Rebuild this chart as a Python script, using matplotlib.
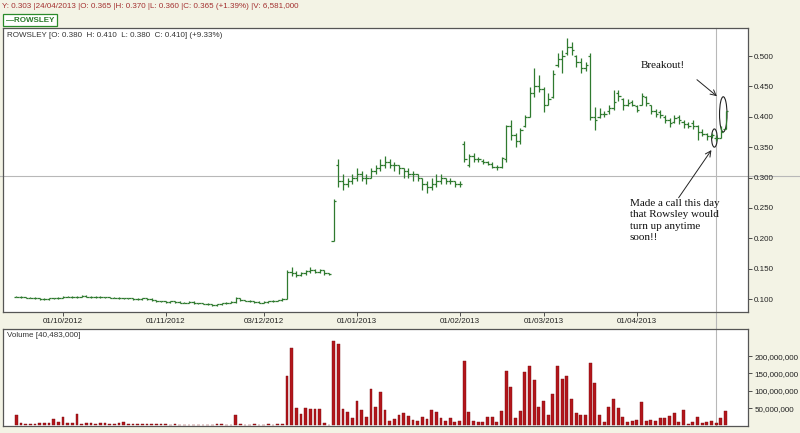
import numpy as np
import matplotlib
matplotlib.use("Agg")
import matplotlib.pyplot as plt
from matplotlib.patches import Ellipse

# ---------------- data (trading-day index 0..152, 17/09/2012 .. 26/04/2013) -------------
opens = [
    .104, .104, .103, .102, .102, .101, .100, .100, .101, .101,
    .102, .104, .104, .103, .104, .105, .104, .103, .104, .103,
    .103, .102, .102, .101, .101, .101, .100, .100, .101, .100,
    .098, .096, .096, .095, .096, .095, .094, .094, .095, .093,
    .093, .092, .091, .090, .091, .093, .094, .095, .101, .098,
    .097, .096, .095, .094, .095, .096, .097, .098,
    .100, .145, .142, .140, .143, .146, .148, .145, .147, .142, .196,
    .320, .295, .290, .295, .300, .305, .300, .300, .310, .315,
    .320, .325, .320, .320, .315, .310, .305, .305, .300, .290,
    .285, .290, .295, .300, .295, .295, .290,
    .355, .320, .335, .330, .328, .326, .322, .318, .318, .330,
    .385, .370, .360, .385, .400, .440, .450, .445, .420, .432,
    .485, .495, .505, .515, .500, .490, .480, .500, .400, .400,
    .405, .410, .415, .440, .430, .420, .425, .418, .420, .432,
    .420, .410, .408, .400, .395, .392, .400, .392, .388, .390,
    .385, .375, .372, .368, .365, .365, .380,
]
highs = [
    .105, .105, .104, .103, .103, .102, .101, .102, .102, .103,
    .105, .105, .105, .105, .106, .106, .105, .105, .105, .104,
    .104, .103, .103, .102, .102, .102, .101, .102, .102, .101,
    .099, .097, .097, .097, .097, .096, .095, .096, .096, .094,
    .094, .093, .092, .092, .094, .095, .096, .103, .102, .099,
    .098, .097, .096, .096, .097, .098, .099, .101,
    .148, .152, .146, .144, .148, .153, .150, .150, .148, .143, .265,
    .330, .305, .300, .305, .315, .310, .305, .315, .320, .330,
    .335, .330, .325, .320, .315, .315, .310, .305, .300, .295,
    .300, .305, .305, .300, .300, .295, .295,
    .360, .338, .341, .333, .330, .328, .325, .321, .334, .387,
    .395, .374, .382, .403, .449, .480, .469, .449, .439, .477,
    .505, .510, .530, .523, .502, .497, .490, .505, .416, .415,
    .410, .420, .444, .444, .431, .430, .428, .420, .440, .435,
    .420, .413, .411, .403, .398, .403, .403, .395, .392, .395,
    .387, .380, .374, .374, .370, .385, .410,
]
lows = [
    .103, .102, .101, .101, .100, .099, .099, .099, .100, .100,
    .101, .103, .102, .102, .103, .103, .102, .102, .102, .102,
    .101, .101, .100, .100, .100, .099, .099, .099, .099, .097,
    .095, .095, .094, .094, .094, .093, .093, .093, .092, .092,
    .091, .090, .089, .089, .090, .092, .093, .094, .097, .096,
    .095, .094, .093, .093, .094, .095, .096, .097,
    .100, .138, .137, .138, .140, .143, .142, .143, .140, .140, .195,
    .285, .280, .285, .290, .295, .295, .290, .300, .305, .310,
    .315, .315, .310, .305, .300, .300, .295, .295, .280, .275,
    .280, .285, .290, .290, .290, .285, .285,
    .325, .318, .326, .325, .322, .320, .315, .312, .316, .325,
    .362, .351, .355, .384, .400, .433, .441, .408, .420, .431,
    .482, .472, .502, .502, .482, .472, .475, .395, .379, .398,
    .400, .405, .411, .426, .411, .418, .418, .408, .420, .418,
    .405, .400, .398, .390, .384, .390, .388, .382, .382, .380,
    .362, .368, .362, .365, .360, .365, .380,
]
closes = [
    .104, .103, .102, .102, .101, .100, .100, .101, .101, .102,
    .104, .104, .103, .104, .105, .104, .103, .104, .103, .103,
    .102, .102, .101, .101, .101, .100, .100, .101, .100, .098,
    .096, .096, .095, .096, .095, .094, .094, .095, .093, .093,
    .092, .091, .090, .091, .093, .094, .095, .101, .098, .097,
    .096, .095, .094, .095, .096, .097, .098, .100,
    .145, .142, .140, .143, .146, .148, .145, .147, .142, .141, .262,
    .295, .290, .295, .300, .305, .300, .300, .310, .315, .320,
    .325, .320, .320, .315, .310, .305, .305, .300, .290, .285,
    .290, .295, .300, .295, .295, .290, .290,
    .330, .335, .330, .330, .326, .322, .318, .318, .332, .385,
    .370, .360, .378, .400, .440, .450, .445, .420, .430, .470,
    .495, .500, .515, .510, .490, .480, .485, .400, .395, .405,
    .405, .415, .425, .435, .420, .422, .420, .412, .435, .422,
    .410, .405, .403, .395, .390, .398, .395, .388, .385, .385,
    .375, .372, .368, .370, .365, .375, .410,
]
volume_m = [  # millions of shares
    30, 6.6, 4, 4, 5, 8, 7, 6, 20, 10,
    23, 6, 6, 32, 5, 7, 7, 4, 6, 6,
    5, 5, 6, 9, 3, 3, 4, 3, 4, 3,
    3, 4, 3, 2, 3, 2, 2, 2, 2, 0,
    2, 2, 0, 3, 5, 0, 2, 31, 3, 2,
    2, 3, 2, 2, 3, 2, 3, 5,
    143, 223, 49, 34, 49, 47, 47, 47, 8, 0, 243,
    235, 47, 38, 21, 71, 44, 24, 105, 54, 97,
    44, 13, 20, 29, 37, 26, 17, 14, 23, 20,
    44, 40, 22, 12, 22, 9, 12,
    186, 38, 12, 9, 9, 23, 23, 10, 43, 157,
    111, 22, 43, 154, 171, 131, 54, 71, 29, 91,
    171, 134, 143, 77, 35, 29, 29, 180, 123, 29,
    9, 54, 76, 49, 23, 9, 14, 17, 69, 14,
    17, 14, 22, 21, 26, 35, 9, 44, 5, 10,
    23, 8, 9, 14, 6.581, 22, 40.483,
]
tick_idx = [10, 32, 53, 73, 95, 113, 133]
tick_labels = ['01/10/2012', '01/11/2012', '03/12/2012', '01/01/2013',
               '01/02/2013', '01/03/2013', '01/04/2013']
price_ticks = [0.100, 0.150, 0.200, 0.250, 0.300, 0.350, 0.400, 0.450, 0.500]
vol_ticks = [50e6, 100e6, 150e6, 200e6]
cross_idx = 150
cross_price = 0.303

# ---------------- figure ----------------
BG = '#f3f3e5'
GREEN = '#2f7a2f'
plt.rcParams['font.family'] = ['Liberation Sans', 'DejaVu Sans']
fig = plt.figure(figsize=(8.0, 4.33), dpi=100, facecolor=BG)
W, H = 800.0, 433.0
ax = fig.add_axes([3 / W, 1 - 312 / H, 745 / W, 284 / H])
axv = fig.add_axes([3 / W, 1 - 426 / H, 745 / W, 97 / H], sharex=ax)

x = np.arange(len(closes))
o = np.array(opens); h = np.array(highs); l = np.array(lows); c = np.array(closes)
vol = np.array(volume_m) * 1e6

ax.vlines(x, l, h, color=GREEN, lw=0.9)
ax.hlines(o, x - 0.5, x, color=GREEN, lw=0.9)
ax.hlines(c, x, x + 0.5, color=GREEN, lw=0.9)

axv.bar(x, vol, width=0.62, color='#b3161b', edgecolor='#7a0c0f', linewidth=0.3)

ax.set_xlim(-2.85, 156.8)
ax.set_ylim(0.0786, 0.5462)
axv.set_ylim(-1.5e6, 278e6)

for a in (ax, axv):
    a.set_facecolor('white')
    for s in a.spines.values():
        s.set_color('#555555')
        s.set_linewidth(0.9)
    a.yaxis.tick_right()
    a.tick_params(axis='y', direction='out', length=3, width=0.6, pad=1.5,
                  labelsize=5.8, colors='#333333', labelcolor='#222222')

ax.set_yticks(price_ticks)
ax.set_yticklabels(['%.3f' % v for v in price_ticks])
ax.set_xticks(tick_idx)
ax.set_xticklabels(tick_labels)
ax.tick_params(axis='x', direction='out', length=3, width=0.6, pad=1.5,
               labelsize=5.8, colors='#333333', labelcolor='#222222')
axv.set_yticks(vol_ticks)
axv.set_yticklabels(['{:,.0f}'.format(v) for v in vol_ticks])
axv.tick_params(axis='x', which='both', length=0, labelbottom=False)

# crosshair
ax.axhline(cross_price, xmin=-0.01, xmax=1.08, color='#b8b8b8', lw=0.8, clip_on=False, zorder=0)
ax.axvline(cross_idx, ymin=-0.06, ymax=1, color='#b8b8b8', lw=0.8, clip_on=False, zorder=0)
axv.axvline(cross_idx, color='#b8b8b8', lw=0.8, zorder=0)

# header texts
fig.text(2 / W, 1 - 7 / H,
         'Y: 0.303 |24/04/2013 |O: 0.365 |H: 0.370 |L: 0.360 |C: 0.365 (+1.39%) |V: 6,581,000',
         color='#a33030', fontsize=5.8, va='center', ha='left')
fig.text(6 / W, 1 - 20 / H, '\u2014ROWSLEY', color='#2a7a2a', fontsize=5.8,
         fontweight='bold', va='center', ha='left',
         bbox=dict(boxstyle='square,pad=0.35', facecolor='white', edgecolor='#2a8a2a', lw=0.9))
ax.text(0.006, 0.985, 'ROWSLEY [O: 0.380  H: 0.410  L: 0.380  C: 0.410] (+9.33%)',
        transform=ax.transAxes, fontsize=5.8, color='#333333', va='top', ha='left')
axv.text(0.006, 0.97, 'Volume [40,483,000]', transform=axv.transAxes,
         fontsize=5.8, color='#333333', va='top', ha='left')

# annotations
serif = ['Liberation Serif', 'DejaVu Serif']
ax.text(133.9, 0.485, 'Breakout!', family=serif, fontsize=8, va='center', ha='left', color='#111111')
ax.text(131.5, 0.264, 'Made a call this day\nthat Rowsley would\nturn up anytime\nsoon!!',
        family=serif, fontsize=8, va='top', ha='left', linespacing=1.3, color='#111111')
ax.add_patch(Ellipse((151.5, 0.404), 1.6, 0.058, fill=False, edgecolor='#222222', lw=0.8))
ax.add_patch(Ellipse((149.6, 0.365), 1.2, 0.030, fill=False, edgecolor='#222222', lw=0.8))
ax.annotate('', xy=(150.6, 0.431), xytext=(145.4, 0.464),
            arrowprops=dict(arrowstyle='->', color='#222222', lw=0.7))
ax.annotate('', xy=(149.3, 0.349), xytext=(141.6, 0.263),
            arrowprops=dict(arrowstyle='->', color='#222222', lw=0.7))

fig.savefig('out.png', dpi=100, facecolor=BG)
